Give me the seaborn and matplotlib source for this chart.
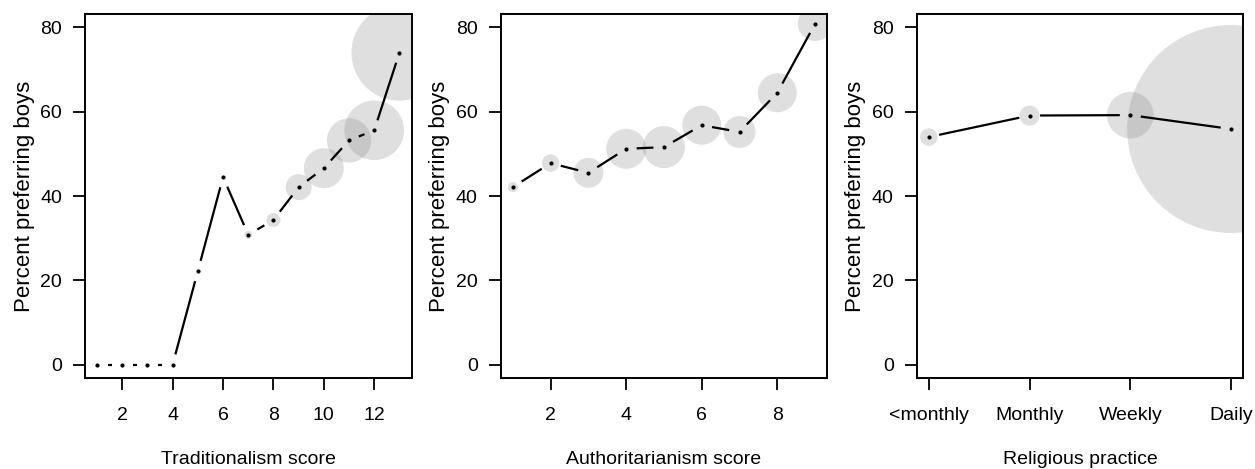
import numpy as np
import matplotlib.pyplot as plt
import seaborn as sns

# Traditionalism score panel
trad_x = [1, 2, 3, 4, 5, 6, 7, 8, 9, 10, 11, 12, 13]
trad_pct = [0, 0, 0, 0, 22.2, 44.5, 30.8, 34.3, 42.1, 46.6, 53.2, 55.6, 74.0]
trad_n = [0, 0, 0, 0, 1, 1, 16, 49, 170, 400, 490, 890, 2300]

# Authoritarianism score panel
auth_x = [1, 2, 3, 4, 5, 6, 7, 8, 9]
auth_pct = [42.1, 47.8, 45.5, 51.2, 51.6, 56.8, 55.2, 64.5, 80.9]
auth_n = [25, 76, 225, 400, 441, 380, 256, 380, 300]

# Religious practice panel
rel_labels = ["<monthly", "Monthly", "Weekly", "Daily"]
rel_x = [1, 2, 3, 4]
rel_pct = [54.0, 59.1, 59.2, 55.9]
rel_n = [76, 100, 543, 10816]

sns.set_style("white")
plt.rcParams['font.family'] = ['Liberation Sans', 'DejaVu Sans']
plt.rcParams['text.color'] = 'black'
plt.rcParams['axes.labelcolor'] = 'black'

W, H = 1255, 469
fig = plt.figure(figsize=(W / 100, H / 100), dpi=100)

# bubble area in pt^2 per unit of group size
K = (2 * 0.72) ** 2


def gapped_line(ax, x, y, gap=10.5):
    # R type="b" style: segments stop short of each point
    pts = ax.transData.transform(np.column_stack([x, y]))
    inv = ax.transData.inverted()
    for p, q in zip(pts[:-1], pts[1:]):
        d = q - p
        dist = np.hypot(*d)
        if dist <= 2 * gap:
            continue
        u = d / dist
        a = inv.transform(p + u * gap)
        b = inv.transform(q - u * gap)
        ax.plot([a[0], b[0]], [a[1], b[1]], color='black', lw=1.6,
                solid_capstyle='butt', zorder=3)


def panel(left, x, y, n, xlabel, xlim, xticks, xticklabels=None):
    ax = fig.add_axes([left / W, (H - 378) / H, 326.5 / W, 364 / H])
    ax.set_xlim(*xlim)
    ax.set_ylim(-3.2, 83.2)
    sns.scatterplot(x=x, y=y, size=n, sizes=(0, K * max(n)), size_norm=(0, max(n)),
                    color='#808080', alpha=0.25, linewidth=0, legend=False, ax=ax, zorder=2)
    sns.scatterplot(x=x, y=y, s=9, color='black', linewidth=0, ax=ax, zorder=4)
    gapped_line(ax, x, y)
    ax.set_xticks(xticks)
    if xticklabels is not None:
        ax.set_xticklabels(xticklabels)
    ax.set_yticks([0, 20, 40, 60, 80])
    ax.tick_params(axis='both', direction='out', length=8.6, width=1.3,
                   bottom=True, left=True, labelsize=14,
                   color='black', labelcolor='black')
    ax.tick_params(axis='x', pad=12.5)
    ax.tick_params(axis='y', pad=8)
    for s in ax.spines.values():
        s.set_visible(True)
        s.set_color('black')
        s.set_linewidth(1.4)
    ax.set_xlabel(xlabel, fontsize=14, labelpad=19, color='black')
    ax.set_ylabel("Percent preferring boys", fontsize=16, labelpad=4, color='black')
    return ax


panel(85, trad_x, trad_pct, trad_n, "Traditionalism score", (0.52, 13.48), [2, 4, 6, 8, 10, 12])
panel(500.7, auth_x, auth_pct, auth_n, "Authoritarianism score", (0.68, 9.32), [2, 4, 6, 8])
panel(916.7, rel_x, rel_pct, rel_n, "Religious practice", (0.88, 4.12), rel_x, rel_labels)

fig.savefig("out.png", dpi=100)
